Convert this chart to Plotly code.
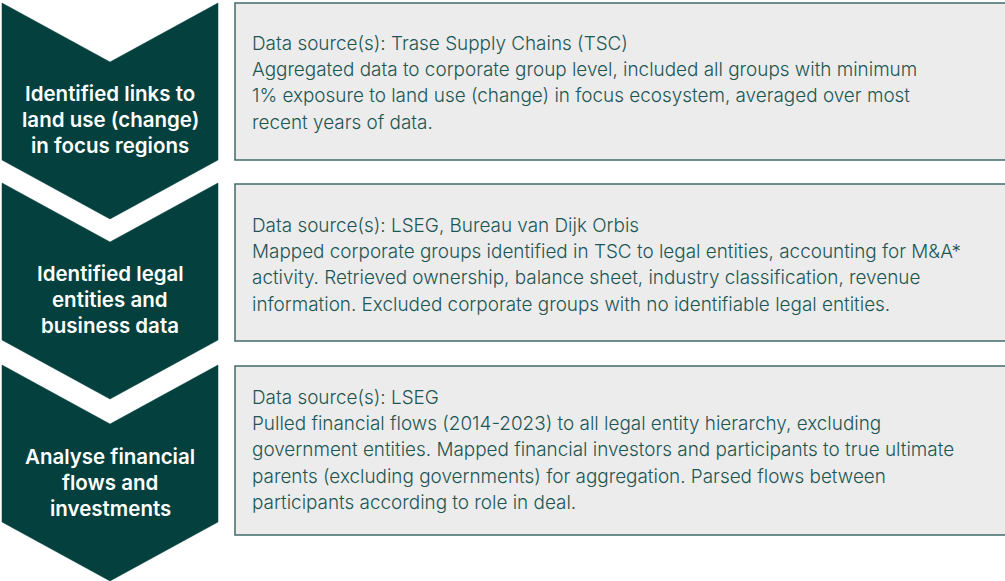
import plotly.graph_objects as go

# ---- content ----
step_titles = [
    ["Identified links to", "land use (change)", "in focus regions"],
    ["Identified legal", "entities and", "business data"],
    ["Analyse financial", "flows and", "investments"],
]
source_lines = [
    "Data source(s): Trase Supply Chains (TSC)",
    "Data source(s): LSEG, Bureau van Dijk Orbis",
    "Data source(s): LSEG",
]
description_lines = [
    ["Aggregated data to corporate group level, included all groups with minimum",
     "1% exposure to land use (change) in focus ecosystem, averaged over most",
     "recent years of data."],
    ["Mapped corporate groups identified in TSC to legal entities, accounting for M&A*",
     "activity. Retrieved ownership, balance sheet, industry classification, revenue",
     "information. Excluded corporate groups with no identifiable legal entities."],
    ["Pulled financial flows (2014-2023) to all legal entity hierarchy, excluding",
     "government entities. Mapped financial investors and participants to true ultimate",
     "parents (excluding governments) for aggregation. Parsed flows between",
     "participants according to role in deal."],
]

# ---- layout geometry ----
W, H = 1005, 581
chev_left, chev_right, chev_mid = 2, 218, 110
chev_tops = [3, 183, 365]
notch = 59
side = 157
box_left, box_right = 235, 1012
box_tops = [3, 184, 366]
box_bottoms = [160, 341, 535]
text_x = 250
line_h = 26.4
title_first_y = [93, 273, 456]
desc_first_y = [43, 225, 397]

CHEV = "#04403e"
BOX_FILL = "#ececec"
BOX_LINE = "#41696a"
TEXT = "#1d5654"
FONT = "Inter, Liberation Sans, Arial, sans-serif"

fig = go.Figure()

for i, t in enumerate(chev_tops):
    xs = [chev_left, chev_mid, chev_right, chev_right, chev_mid, chev_left, chev_left]
    ys = [t, t + notch, t, t + side, t + side + notch, t + side, t]
    fig.add_trace(go.Scatter(x=xs, y=ys, mode="lines", fill="toself",
                             fillcolor=CHEV, line=dict(color=CHEV, width=0.5),
                             hoverinfo="skip", showlegend=False))

shapes = []
for i in range(3):
    shapes.append(dict(type="rect", xref="x", yref="y",
                       x0=box_left, x1=box_right, y0=box_tops[i], y1=box_bottoms[i],
                       fillcolor=BOX_FILL, line=dict(color=BOX_LINE, width=1.5),
                       layer="below"))

annotations = []
for i, lines in enumerate(step_titles):
    for j, ln in enumerate(lines):
        annotations.append(dict(x=chev_mid, y=title_first_y[i] + j * line_h,
                                xref="x", yref="y", text=ln,
                                showarrow=False, xanchor="center", yanchor="middle",
                                font=dict(family=FONT, size=20.5, weight=600, color="white")))
for i in range(3):
    lines = [source_lines[i]] + description_lines[i]
    for j, ln in enumerate(lines):
        annotations.append(dict(x=text_x, y=desc_first_y[i] + j * line_h,
                                xref="x", yref="y", text=ln,
                                showarrow=False, xanchor="left", yanchor="middle",
                                font=dict(family=FONT, size=18.9, weight=300, color=TEXT)))

fig.update_layout(
    width=W, height=H, margin=dict(l=0, r=0, t=0, b=0),
    paper_bgcolor="white", plot_bgcolor="white",
    xaxis=dict(range=[0, W], visible=False, fixedrange=True),
    yaxis=dict(range=[H, 0], visible=False, fixedrange=True),
    shapes=shapes, annotations=annotations, showlegend=False,
)

fig.write_html("out.html", config={"displayModeBar": False},
               post_script="document.body.style.margin='0';document.body.style.overflow='hidden';")
